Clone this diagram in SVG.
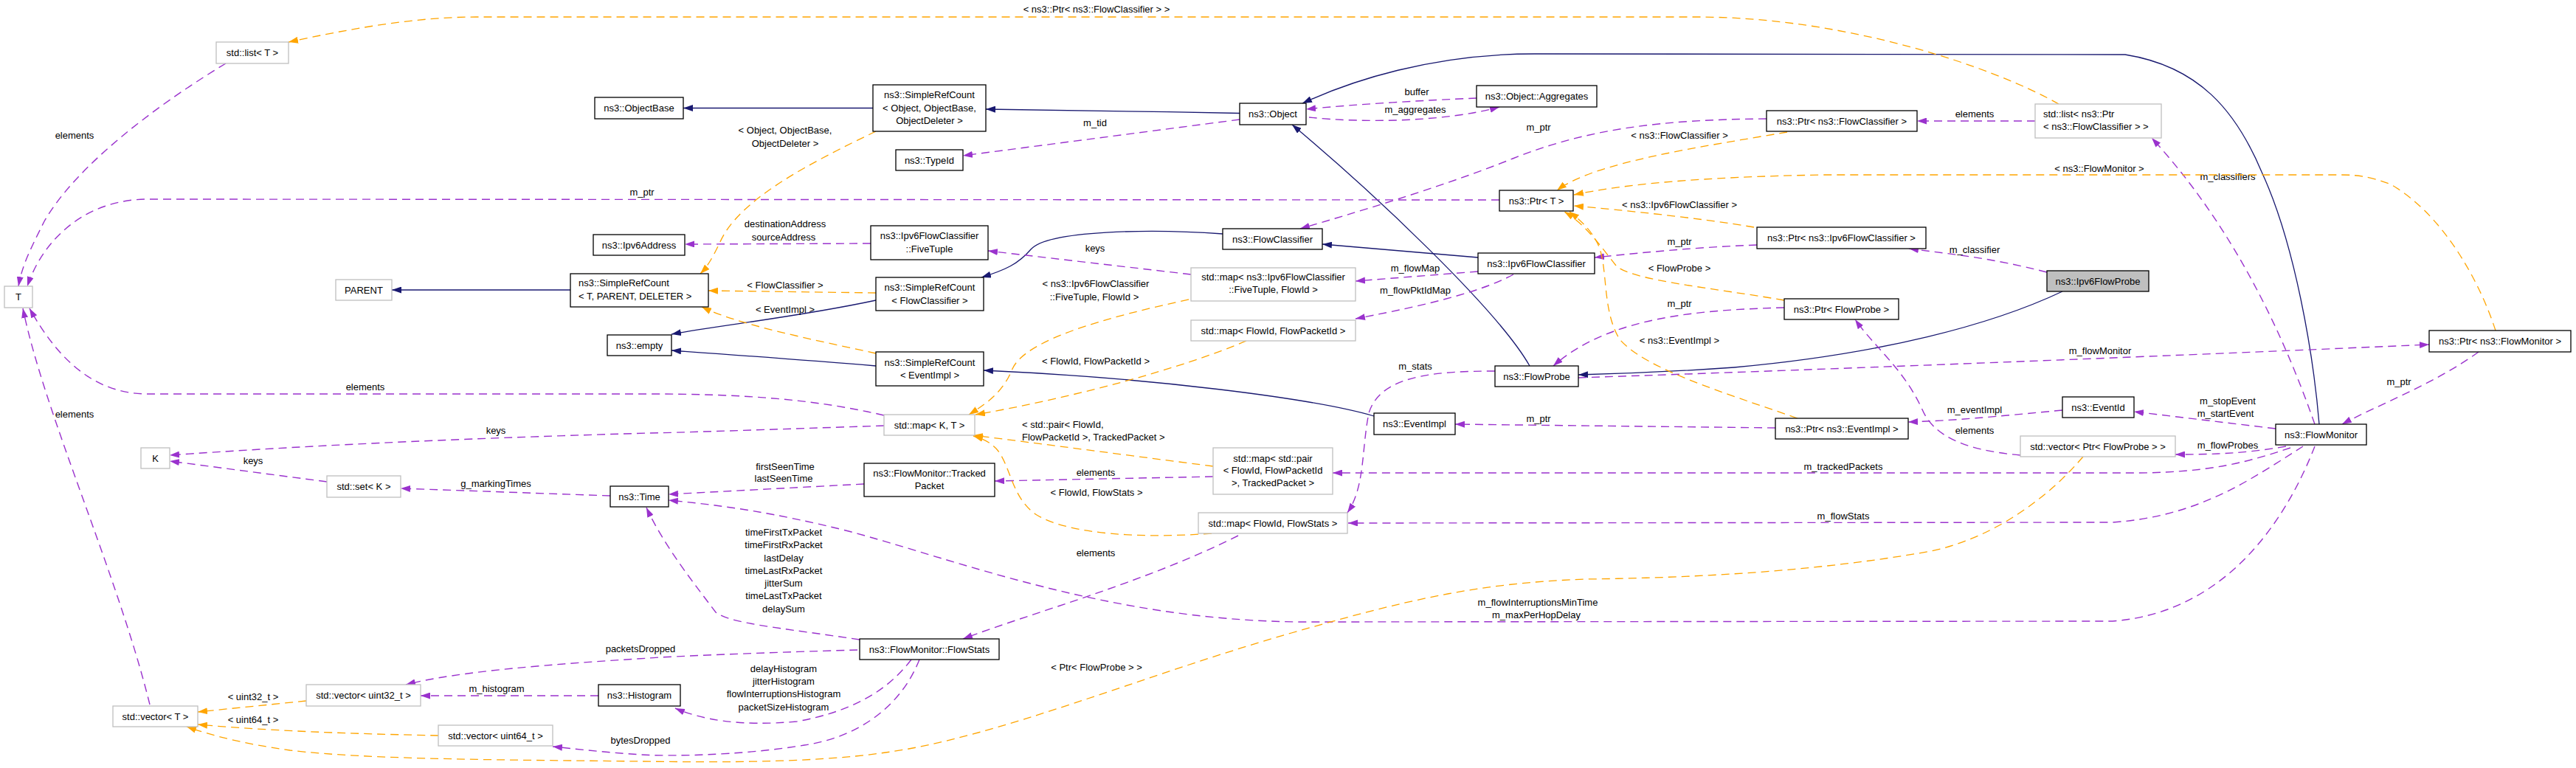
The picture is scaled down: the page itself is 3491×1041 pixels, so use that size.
<svg xmlns="http://www.w3.org/2000/svg" width="3491" height="1041" viewBox="0 0 3491 1041">
<style>
text{font-family:"Liberation Sans",Arial,Helvetica,sans-serif;font-size:13px;fill:#000}
.nd text,.lb{text-anchor:middle}
.nd text.l,.ll{text-anchor:start}
.nd rect{fill:#fff;stroke:#000;stroke-width:1.3}
.gr rect{stroke:#bfbfbf}
.cur rect{fill:#bfbfbf}
.inh{fill:none;stroke:#191970;stroke-width:1.3;marker-end:url(#ab)}
.use{fill:none;stroke:#9a32cd;stroke-width:1.4;stroke-dasharray:11,7;marker-end:url(#ap)}
.tpl{fill:none;stroke:#ffa500;stroke-width:1.3;stroke-dasharray:11,7;marker-end:url(#ao)}
</style>
<defs>
<marker id="ab" viewBox="0 0 13 9" refX="13" refY="4.5" markerWidth="13" markerHeight="9" markerUnits="userSpaceOnUse" orient="auto"><path d="M0,0L13,4.5L0,9z" fill="#191970"/></marker>
<marker id="ap" viewBox="0 0 13 9" refX="13" refY="4.5" markerWidth="13" markerHeight="9" markerUnits="userSpaceOnUse" orient="auto"><path d="M0,0L13,4.5L0,9z" fill="#9a32cd"/></marker>
<marker id="ao" viewBox="0 0 13 9" refX="13" refY="4.5" markerWidth="13" markerHeight="9" markerUnits="userSpaceOnUse" orient="auto"><path d="M0,0L13,4.5L0,9z" fill="#ffa500"/></marker>
</defs>
<rect width="3491" height="1041" fill="#fff"/>
<g id="edges">
<!-- inheritance -->
<path class="inh" d="M1183,146.5L926,146.5"/>
<path class="inh" d="M1680,153.5C1560,151 1420,149 1336,148"/>
<path class="inh" d="M2073,496C2030,420 1860,260 1751,169"/>
<path class="inh" d="M3143,575C3135,480 3110,330 3065,233C3030,150 2980,90 2880,74L2080,73C1940,73 1830,110 1765,140"/>
<path class="inh" d="M2003,349L1792,331"/>
<path class="inh" d="M1657,317C1560,310 1420,312 1397,338C1380,358 1362,366 1330,376"/>
<path class="inh" d="M1187,407C1080,430 980,440 910,453"/>
<path class="inh" d="M1187,496C1080,487 980,480 910,475"/>
<path class="inh" d="M1862,564C1780,540 1560,512 1333,502"/>
<path class="inh" d="M773,393L531,393"/>
<path class="inh" d="M2795,395C2700,440 2550,480 2350,498C2250,505 2180,507 2139,508"/>
<!-- usage -->
<path class="use" d="M1680,162L1305,211"/>
<text class="lb" x="1484" y="171">m_tid</text>
<path class="use" d="M2001,133C1930,136 1840,141 1770,148"/>
<text class="lb" x="1920" y="128.5">buffer</text>
<path class="use" d="M1774,159C1850,167 1960,165 2032,145"/>
<text class="lb" x="1918" y="152.5">m_aggregates</text>
<path class="use" d="M2394,161C2250,162 2150,175 2050,215C1950,255 1830,290 1762,310"/>
<text class="lb" x="2085" y="176.5">m_ptr</text>
<path class="use" d="M2758,164L2598,164"/>
<text class="lb" x="2676" y="158.5">elements</text>
<path class="use" d="M3137,575C3090,440 3020,300 2916,187"/>
<text class="lb" x="3019" y="243.5">m_classifiers</text>
<path class="use" d="M2032,271L200,270C120,270 60,320 37,388"/>
<text class="lb" x="870" y="264.5">m_ptr</text>
<path class="use" d="M306,86C200,150 100,230 60,300C40,340 30,360 25,388"/>
<text class="lb" x="101" y="187.5">elements</text>
<path class="use" d="M1180,330L928,331"/>
<text class="lb" x="1064" y="307.5">destinationAddress</text>
<text class="lb" x="1062" y="325.5">sourceAddress</text>
<path class="use" d="M1614,372L1339,340"/>
<text class="lb" x="1484" y="340.5">keys</text>
<path class="use" d="M2003,368L1837,381"/>
<text class="lb" x="1918" y="367.5">m_flowMap</text>
<path class="use" d="M2051,372C2000,400 1900,420 1837,432"/>
<text class="lb" x="1918" y="397.5">m_flowPktIdMap</text>
<path class="use" d="M2381,332C2300,335 2230,342 2161,349"/>
<text class="lb" x="2276" y="331.5">m_ptr</text>
<path class="use" d="M2774,369C2700,350 2650,345 2587,337"/>
<text class="lb" x="2676" y="342.5">m_classifier</text>
<path class="use" d="M2418,417C2300,420 2180,430 2105,496"/>
<text class="lb" x="2276" y="415.5">m_ptr</text>
<path class="use" d="M2738,617C2660,610 2620,590 2605,555C2580,500 2540,470 2514,433"/>
<text class="lb" x="2676" y="587.5">elements</text>
<path class="use" d="M2026,503C1940,503 1870,510 1855,560C1845,610 1850,660 1826,695"/>
<text class="lb" x="1918" y="500.5">m_stats</text>
<path class="use" d="M2139,512C2500,500 3000,480 3292,467"/>
<text class="lb" x="2846" y="479.5">m_flowMonitor</text>
<path class="use" d="M3359,477C3300,520 3220,550 3174,575"/>
<text class="lb" x="3251" y="521.5">m_ptr</text>
<path class="use" d="M2406,580L1972,575"/>
<text class="lb" x="2085" y="571.5">m_ptr</text>
<path class="use" d="M2795,556C2700,565 2650,570 2586,572"/>
<text class="lb" x="2676" y="559.5">m_eventImpl</text>
<path class="use" d="M3084,581L2892,558"/>
<text class="lb" x="3019" y="547.5">m_stopEvent</text>
<text class="lb" x="3016" y="564.5">m_startEvent</text>
<path class="use" d="M3098,605C3040,615 3000,616 2948,616"/>
<text class="lb" x="3019" y="607.5">m_flowProbes</text>
<path class="use" d="M3104,607C3050,625 3000,640 2900,641L1806,641"/>
<text class="lb" x="2498" y="637">m_trackedPackets</text>
<path class="use" d="M3121,605C3050,650 2980,700 2863,708L1827,709"/>
<text class="lb" x="2498" y="703.5">m_flowStats</text>
<path class="use" d="M3137,605C3100,700 3020,830 2863,842L1760,843C1500,840 1300,760 1150,720C1050,695 980,685 906,678"/>
<text class="lb" x="2084" y="820.5">m_flowInterruptionsMinTime</text>
<text class="lb" x="2082" y="837.5">m_maxPerHopDelay</text>
<path class="use" d="M1171,656L906,670"/>
<text class="lb" x="1064" y="636.5">firstSeenTime</text>
<text class="lb" x="1062" y="653">lastSeenTime</text>
<path class="use" d="M1644,646L1348,652"/>
<text class="lb" x="1485" y="644.5">elements</text>
<path class="use" d="M1165,867C1050,850 990,845 970,830C940,790 900,740 876,688"/>
<text class="lb" x="1062" y="725.5">timeFirstTxPacket</text>
<text class="lb" x="1062" y="743">timeFirstRxPacket</text>
<text class="lb" x="1062" y="760.5">lastDelay</text>
<text class="lb" x="1062" y="777.5">timeLastRxPacket</text>
<text class="lb" x="1062" y="795">jitterSum</text>
<text class="lb" x="1062" y="812">timeLastTxPacket</text>
<text class="lb" x="1062" y="829.5">delaySum</text>
<path class="use" d="M1678,726C1550,790 1400,830 1305,866"/>
<text class="lb" x="1485" y="753.5">elements</text>
<path class="use" d="M1162,881C1050,884 900,890 880,892C750,900 620,910 550,928"/>
<text class="lb" x="868" y="883.5">packetsDropped</text>
<path class="use" d="M811,943L570,943"/>
<text class="lb" x="673" y="937.5">m_histogram</text>
<path class="use" d="M1235,894C1200,940 1150,965 1080,978C1000,985 950,975 915,960"/>
<text class="lb" x="1062" y="911">delayHistogram</text>
<text class="lb" x="1062" y="928">jitterHistogram</text>
<text class="lb" x="1062" y="945">flowInterruptionsHistogram</text>
<text class="lb" x="1062" y="963">packetSizeHistogram</text>
<path class="use" d="M1246,894C1220,960 1160,1000 1090,1010C1000,1025 900,1025 870,1023C820,1020 780,1015 749,1012"/>
<text class="lb" x="868" y="1007.5">bytesDropped</text>
<path class="use" d="M1198,563C1100,540 1000,534 880,534L200,534C130,534 80,490 40,418"/>
<text class="lb" x="495" y="528.5">elements</text>
<path class="use" d="M1198,577C1050,582 900,587 880,587C600,595 400,605 230,617"/>
<text class="lb" x="672" y="587.5">keys</text>
<path class="use" d="M443,653L230,625"/>
<text class="lb" x="343" y="628.5">keys</text>
<path class="use" d="M827,672L543,662"/>
<text class="lb" x="672" y="659.5">g_markingTimes</text>
<path class="use" d="M203,955C160,780 60,560 31,418"/>
<text class="lb" x="101" y="565.5">elements</text>
<!-- template instances -->
<path class="tpl" d="M2790,141C2700,90 2500,23 2300,23L645,23C560,23 470,40 391,57"/>
<text class="lb" x="1486" y="17">&lt; ns3::Ptr&lt; ns3::FlowClassifier &gt; &gt;</text>
<path class="tpl" d="M2422,179C2300,200 2160,220 2110,258"/>
<text class="lb" x="2276" y="187.5">&lt; ns3::FlowClassifier &gt;</text>
<path class="tpl" d="M3382,448C3360,380 3310,290 3240,250C3210,238 3190,237 3171,237L2470,237C2300,240 2200,250 2133,264"/>
<text class="lb" x="2845" y="232.5">&lt; ns3::FlowMonitor &gt;</text>
<path class="tpl" d="M2377,308C2300,295 2200,285 2133,279"/>
<text class="lb" x="2276" y="281.5">&lt; ns3::Ipv6FlowClassifier &gt;</text>
<path class="tpl" d="M2418,407C2320,390 2210,380 2190,360C2170,335 2150,305 2120,287"/>
<text class="lb" x="2276" y="367.5">&lt; FlowProbe &gt;</text>
<path class="tpl" d="M2436,567C2330,530 2230,500 2195,460C2170,420 2180,360 2165,330C2155,310 2140,297 2127,287"/>
<text class="lb" x="2276" y="465.5">&lt; ns3::EventImpl &gt;</text>
<path class="tpl" d="M2823,619C2780,670 2700,735 2600,750C2450,775 2300,783 2150,785C2000,790 1900,815 1750,858C1550,915 1350,1000 1200,1020C1100,1035 950,1033 870,1032C700,1030 500,1030 393,1017C330,1008 290,998 253,985"/>
<text class="lb" x="1486" y="908.5">&lt; Ptr&lt; FlowProbe &gt; &gt;</text>
<path class="tpl" d="M415,950L268,965"/>
<text class="lb" x="343" y="948.5">&lt; uint32_t &gt;</text>
<path class="tpl" d="M594,997C500,995 380,992 268,982"/>
<text class="lb" x="343" y="979.5">&lt; uint64_t &gt;</text>
<path class="tpl" d="M1611,406C1500,430 1390,460 1372,500C1360,530 1340,545 1313,562"/>
<text class="lb" x="1485" y="388.5">&lt; ns3::Ipv6FlowClassifier</text>
<text class="lb" x="1483" y="406.5">::FiveTuple, FlowId &gt;</text>
<path class="tpl" d="M1689,462C1600,500 1450,540 1322,562"/>
<text class="lb" x="1485" y="493.5">&lt; FlowId, FlowPacketId &gt;</text>
<path class="tpl" d="M1644,632C1550,620 1400,600 1319,590"/>
<text class="ll" x="1385" y="579.5">&lt; std::pair&lt; FlowId,</text>
<text class="ll" x="1385" y="596.5">FlowPacketId &gt;, TrackedPacket &gt;</text>
<path class="tpl" d="M1642,723C1550,730 1450,725 1405,698C1370,675 1370,630 1350,608C1340,598 1330,594 1319,591"/>
<text class="lb" x="1486" y="671.5">&lt; FlowId, FlowStats &gt;</text>
<path class="tpl" d="M1187,178C1100,220 1000,270 975,330C965,350 960,360 949,371"/>
<text class="lb" x="1064" y="181">&lt; Object, ObjectBase,</text>
<text class="lb" x="1064" y="199">ObjectDeleter &gt;</text>
<path class="tpl" d="M1187,397L960,394"/>
<text class="lb" x="1064" y="391">&lt; FlowClassifier &gt;</text>
<path class="tpl" d="M1187,479C1100,460 1000,440 951,416"/>
<text class="lb" x="1064" y="423.5">&lt; EventImpl &gt;</text>
</g>
<g id="n_stdlistT" class="nd gr"><rect x="293" y="57" width="98" height="29"/><text x="342" y="76">std::list&lt; T &gt;</text></g>
<g id="n_ObjectBase" class="nd"><rect x="806" y="132" width="120" height="29"/><text x="866" y="151">ns3::ObjectBase</text></g>
<g id="n_SRCObject" class="nd"><rect x="1183" y="115" width="153" height="63"/><text x="1259.5" y="132.5">ns3::SimpleRefCount</text><text x="1259.5" y="150.5">&lt; Object, ObjectBase,</text><text x="1259.5" y="167.5">ObjectDeleter &gt;</text></g>
<g id="n_TypeId" class="nd"><rect x="1214" y="203" width="91" height="28"/><text x="1259.5" y="221.5">ns3::TypeId</text></g>
<g id="n_Object" class="nd"><rect x="1680" y="140" width="90" height="29"/><text x="1725" y="159">ns3::Object</text></g>
<g id="n_Aggregates" class="nd"><rect x="2001" y="116" width="163" height="29"/><text x="2082.5" y="135">ns3::Object::Aggregates</text></g>
<g id="n_PtrFC" class="nd"><rect x="2394" y="150" width="204" height="28"/><text x="2496" y="168.5">ns3::Ptr&lt; ns3::FlowClassifier &gt;</text></g>
<g id="n_listPtrFC" class="nd gr"><rect x="2758" y="141" width="171" height="46"/><text class="l" x="2769" y="158.5">std::list&lt; ns3::Ptr</text><text class="l" x="2769" y="176">&lt; ns3::FlowClassifier &gt; &gt;</text></g>
<g id="n_PtrT" class="nd"><rect x="2032" y="258" width="100" height="28"/><text x="2082" y="276.5">ns3::Ptr&lt; T &gt;</text></g>
<g id="n_PtrIpv6FC" class="nd"><rect x="2381" y="308" width="229" height="29"/><text x="2495.5" y="327">ns3::Ptr&lt; ns3::Ipv6FlowClassifier &gt;</text></g>
<g id="n_Ipv6Address" class="nd"><rect x="804" y="318" width="124" height="28"/><text x="866" y="336.5">ns3::Ipv6Address</text></g>
<g id="n_FiveTuple" class="nd"><rect x="1180" y="306" width="159" height="46"/><text x="1259.5" y="323.5">ns3::Ipv6FlowClassifier</text><text x="1259.5" y="341.5">::FiveTuple</text></g>
<g id="n_FlowClassifier" class="nd"><rect x="1657" y="310" width="135" height="28"/><text x="1724.5" y="328.5">ns3::FlowClassifier</text></g>
<g id="n_T" class="nd gr"><rect x="6" y="388" width="38" height="29"/><text x="25" y="407">T</text></g>
<g id="n_PARENT" class="nd gr"><rect x="455" y="379" width="76" height="28"/><text x="493" y="397.5">PARENT</text></g>
<g id="n_SRCT" class="nd"><rect x="773" y="371" width="187" height="45"/><text class="l" x="784" y="387.5">ns3::SimpleRefCount</text><text class="l" x="784" y="405.5">&lt; T, PARENT, DELETER &gt;</text></g>
<g id="n_empty" class="nd"><rect x="823" y="454" width="87" height="28"/><text x="866.5" y="472.5">ns3::empty</text></g>
<g id="n_SRCFC" class="nd"><rect x="1187" y="376" width="146" height="45"/><text x="1260" y="393.5">ns3::SimpleRefCount</text><text x="1260" y="411.5">&lt; FlowClassifier &gt;</text></g>
<g id="n_SRCEI" class="nd"><rect x="1187" y="477" width="146" height="46"/><text x="1260" y="495.5">ns3::SimpleRefCount</text><text x="1260" y="512.5">&lt; EventImpl &gt;</text></g>
<g id="n_mapKT" class="nd gr"><rect x="1198" y="562" width="123" height="28"/><text x="1259.5" y="580.5">std::map&lt; K, T &gt;</text></g>
<g id="n_TrackedPacket" class="nd"><rect x="1171" y="628" width="177" height="45"/><text x="1259.5" y="645.5">ns3::FlowMonitor::Tracked</text><text x="1259.5" y="662.5">Packet</text></g>
<g id="n_Time" class="nd"><rect x="827" y="659" width="79" height="28"/><text x="866.5" y="677.5">ns3::Time</text></g>
<g id="n_K" class="nd gr"><rect x="191" y="607" width="39" height="28"/><text x="210.5" y="625.5">K</text></g>
<g id="n_setK" class="nd gr"><rect x="443" y="645" width="100" height="29"/><text x="493" y="664">std::set&lt; K &gt;</text></g>
<g id="n_mapFiveTuple" class="nd gr"><rect x="1614" y="363" width="223" height="45"/><text x="1725.5" y="379.5">std::map&lt; ns3::Ipv6FlowClassifier</text><text x="1725.5" y="396.5">::FiveTuple, FlowId &gt;</text></g>
<g id="n_mapFlowPacketId" class="nd gr"><rect x="1614" y="434" width="223" height="28"/><text x="1725.5" y="452.5">std::map&lt; FlowId, FlowPacketId &gt;</text></g>
<g id="n_Ipv6FC" class="nd"><rect x="2003" y="343" width="158" height="28"/><text x="2082" y="361.5">ns3::Ipv6FlowClassifier</text></g>
<g id="n_PtrFlowProbe" class="nd"><rect x="2418" y="405" width="155" height="28"/><text x="2495.5" y="423.5">ns3::Ptr&lt; FlowProbe &gt;</text></g>
<g id="n_FlowProbe" class="nd"><rect x="2026" y="496" width="113" height="28"/><text x="2082.5" y="514.5">ns3::FlowProbe</text></g>
<g id="n_EventImpl" class="nd"><rect x="1862" y="560" width="110" height="29"/><text x="1917" y="579">ns3::EventImpl</text></g>
<g id="n_PtrEventImpl" class="nd"><rect x="2406" y="567" width="180" height="28"/><text x="2496" y="585.5">ns3::Ptr&lt; ns3::EventImpl &gt;</text></g>
<g id="n_mapPair" class="nd gr"><rect x="1644" y="607" width="162" height="63"/><text x="1725" y="625.5">std::map&lt; std::pair</text><text x="1725" y="642">&lt; FlowId, FlowPacketId</text><text x="1725" y="658.5">&gt;, TrackedPacket &gt;</text></g>
<g id="n_mapFlowStats" class="nd gr"><rect x="1624" y="695" width="202" height="28"/><text x="1725" y="713.5">std::map&lt; FlowId, FlowStats &gt;</text></g>
<g id="n_FlowStats" class="nd"><rect x="1165" y="866" width="189" height="28"/><text x="1259.5" y="884.5">ns3::FlowMonitor::FlowStats</text></g>
<g id="n_vecU32" class="nd gr"><rect x="415" y="928" width="155" height="29"/><text x="492.5" y="947">std::vector&lt; uint32_t &gt;</text></g>
<g id="n_Histogram" class="nd"><rect x="811" y="928" width="111" height="29"/><text x="866.5" y="947">ns3::Histogram</text></g>
<g id="n_vecT" class="nd gr"><rect x="153" y="957" width="115" height="28"/><text x="210.5" y="975.5">std::vector&lt; T &gt;</text></g>
<g id="n_vecU64" class="nd gr"><rect x="594" y="983" width="155" height="28"/><text x="671.5" y="1001.5">std::vector&lt; uint64_t &gt;</text></g>
<g id="n_Ipv6FlowProbe" class="nd cur"><rect x="2774" y="367" width="138" height="28"/><text x="2843" y="385.5">ns3::Ipv6FlowProbe</text></g>
<g id="n_PtrFlowMonitor" class="nd"><rect x="3292" y="448" width="192" height="29"/><text x="3388" y="467">ns3::Ptr&lt; ns3::FlowMonitor &gt;</text></g>
<g id="n_EventId" class="nd"><rect x="2795" y="538" width="97" height="28"/><text x="2843.5" y="556.5">ns3::EventId</text></g>
<g id="n_vecPtrFlowProbe" class="nd gr"><rect x="2738" y="591" width="210" height="28"/><text x="2843" y="609.5">std::vector&lt; Ptr&lt; FlowProbe &gt; &gt;</text></g>
<g id="n_FlowMonitor" class="nd"><rect x="3084" y="575" width="123" height="28"/><text x="3145.5" y="593.5">ns3::FlowMonitor</text></g>
</svg>
